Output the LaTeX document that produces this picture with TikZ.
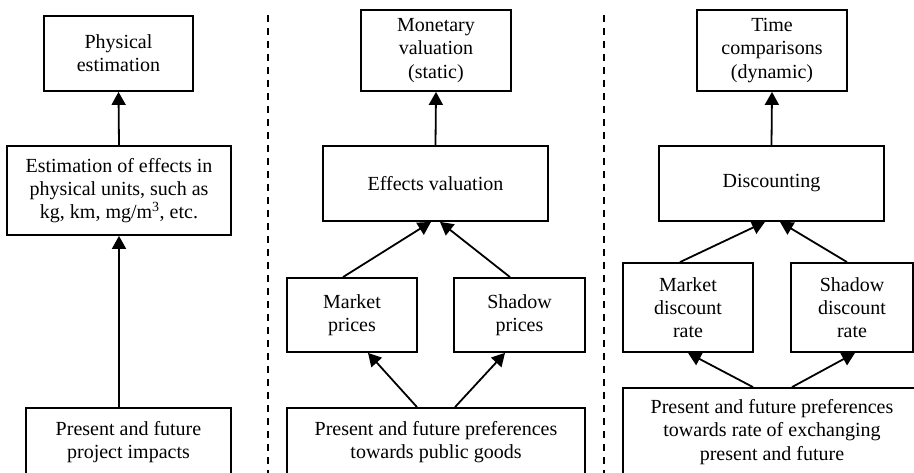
\documentclass[tikz,border=0pt]{standalone}
\usepackage{fontspec}
\setmainfont{Liberation Serif}
\usetikzlibrary{arrows.meta}
\tikzset{
  box/.style={draw, line width=1.8pt, align=center, inner sep=0pt,
    font=\fontsize{20}{23.3}\selectfont},
  arr/.style={line width=1.8pt, -{Triangle[length=13pt,width=14pt]}},
  sep/.style={line width=2pt, dash pattern=on 7pt off 6pt}
}
\begin{document}
\begin{tikzpicture}[x=1pt, y=-1pt]
  \clip (0,0) rectangle (914,473);
  % 第一栏
  \node[box, minimum width=149pt, minimum height=75pt] (phys) at (118.5,53.5) {Physical\\estimation};
  \node[box, minimum width=224pt, minimum height=89pt] (est) at (119,190.5) {Estimation of effects in\\physical units, such as\\kg, km, mg/m\textsuperscript{3}, etc.};
  \node[box, minimum width=205pt, minimum height=68pt] (imp) at (128.5,442) {Present and future\\project impacts};
  \draw[arr] (imp.north -| est.south) -- (est.south);
  \draw[arr] (est.north) -- (phys.south);
  % 分隔线
  \draw[sep] (268,15) -- (268,480);
  \draw[sep] (603.5,15) -- (603.5,480);
  % 第二栏
  \node[box, minimum width=150pt, minimum height=81pt] (mon) at (436,50.5) {Monetary\\valuation\\(static)};
  \node[box, minimum width=225pt, minimum height=75pt] (eff) at (435.5,183.5) {Effects valuation};
  \node[box, minimum width=130pt, minimum height=74pt] (mkt) at (352,315) {Market\\prices};
  \node[box, minimum width=131pt, minimum height=74pt] (shd) at (519.5,315) {Shadow\\prices};
  \node[box, minimum width=298pt, minimum height=68pt] (pub) at (436,442) {Present and future preferences\\towards public goods};
  \draw[arr] (eff.north) -- (mon.south);
  \draw[arr] ([xshift=-9pt]mkt.north) -- ([xshift=-4.5pt]eff.south);
  \draw[arr] ([xshift=-9.5pt]shd.north) -- ([xshift=4.5pt]eff.south);
  \draw[arr] ([xshift=-19pt]pub.north) -- ([xshift=16pt]mkt.south);
  \draw[arr] ([xshift=19pt]pub.north) -- ([xshift=-14.5pt]shd.south);
  % 第三栏
  \node[box, minimum width=150pt, minimum height=81pt] (tim) at (772,50.5) {Time\\comparisons\\(dynamic)};
  \node[box, minimum width=225pt, minimum height=75pt] (dsc) at (771.5,183.5) {Discounting};
  \node[box, minimum width=130pt, minimum height=89pt] (mdr) at (688,307.5) {Market\\discount\\rate};
  \node[box, minimum width=122pt, minimum height=89pt] (sdr) at (852,307.5) {Shadow\\discount\\rate};
  \node[box, minimum width=298pt, minimum height=88pt] (pre) at (772,432) {Present and future preferences\\towards rate of exchanging\\present and future};
  \draw[arr] (dsc.north) -- (tim.south);
  \draw[arr] ([xshift=-8pt]mdr.north) -- ([xshift=-6.5pt]dsc.south);
  \draw[arr] ([xshift=-5pt]sdr.north) -- ([xshift=8.5pt]dsc.south);
  \draw[arr] ([xshift=-19pt]pre.north) -- (mdr.south);
  \draw[arr] ([xshift=20pt]pre.north) -- ([xshift=3pt]sdr.south);
\end{tikzpicture}
\end{document}
